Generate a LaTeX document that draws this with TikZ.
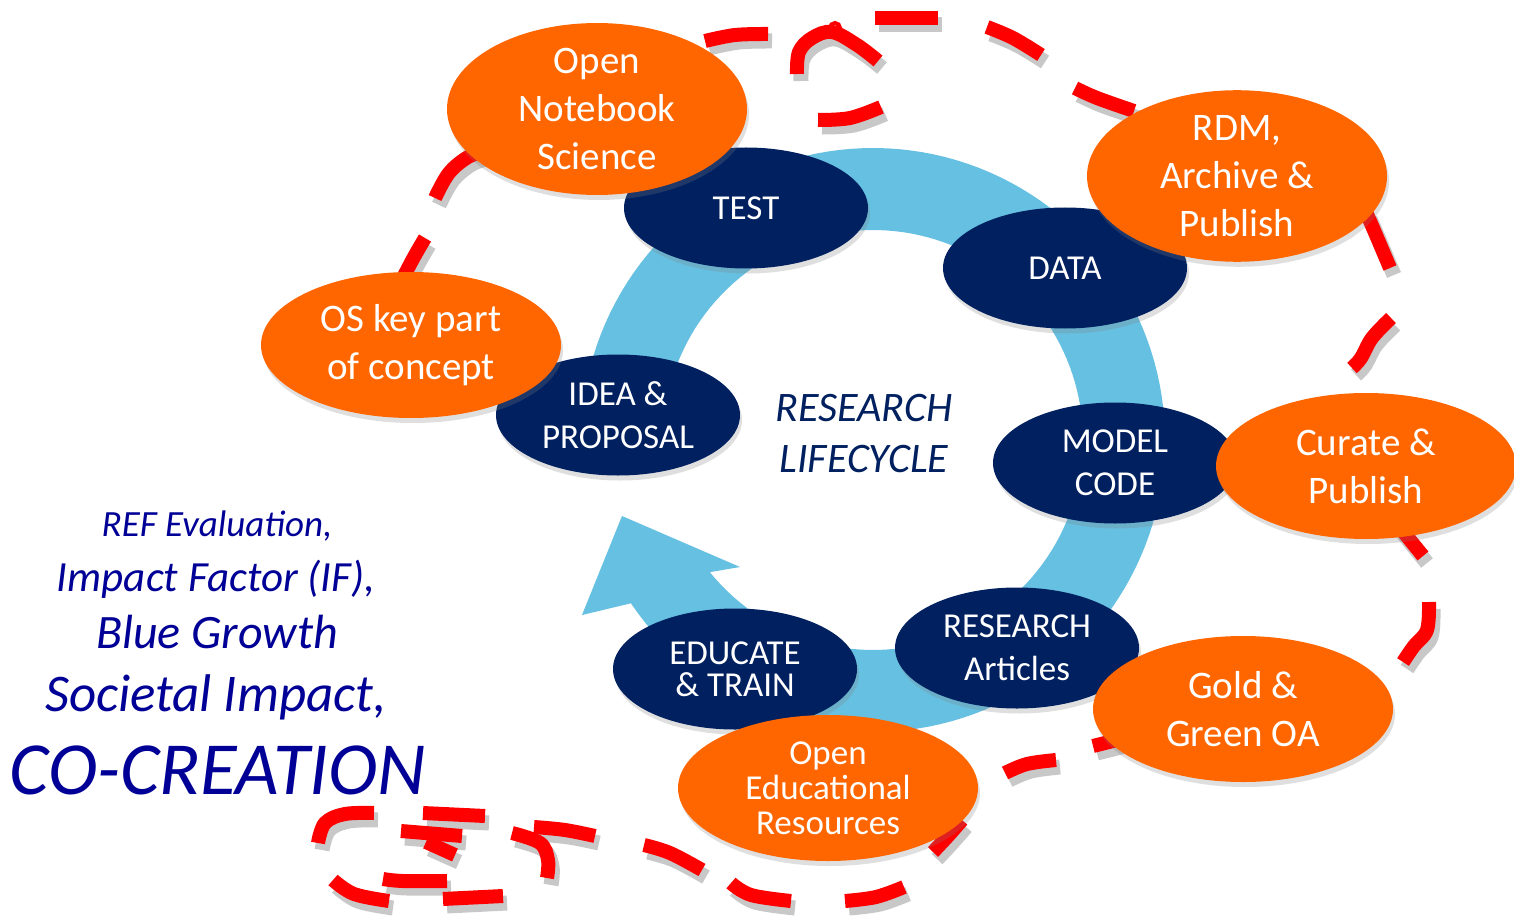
\documentclass[tikz,border=0pt]{standalone}
\usepackage{fontspec}
\setmainfont{Carlito}
\usetikzlibrary{shapes.geometric,shadows}
\definecolor{navy}{RGB}{0,32,96}
\definecolor{orng}{RGB}{255,102,0}
\definecolor{ringblue}{RGB}{102,192,225}
\definecolor{txtblue}{RGB}{0,0,150}
\newcommand\reddash[1]{%
  \draw[dashshadow] plot[smooth,tension=0.6] coordinates {#1};
  \draw[dashstroke] plot[smooth,tension=0.6] coordinates {#1};}
\begin{document}
\begin{tikzpicture}[x=1pt,y=-1pt,
  navynode/.style={ellipse, fill=navy, text=white, minimum width=244pt, minimum height=121pt,
    inner sep=0pt, align=center, font=\fontsize{35}{43}\selectfont,
    drop shadow={shadow xshift=2pt, shadow yshift=-5pt, opacity=0.25}},
  orangenode/.style={ellipse, fill=orng, text=white, minimum width=300pt, minimum height=146pt,
    inner sep=0pt, align=center, font=\fontsize{39}{48}\selectfont,
    drop shadow={shadow xshift=2pt, shadow yshift=-5pt, opacity=0.25}},
  dashstroke/.style={draw=red, line width=14pt},
  dashshadow/.style={draw=black!70, opacity=0.3, line width=15pt, xshift=4pt, yshift=-7pt},
  sidetext/.style={anchor=base, text=txtblue, inner sep=0pt},
  centertext/.style={anchor=base, text=navy, inner sep=0pt, font=\fontsize{42}{51}\selectfont\itshape}]

\useasboundingbox (0,0) rectangle (1514,917);
\fill[white] (0,0) rectangle (1514,917);

% lifecycle arrow
\fill[ringblue]
  plot[domain=185:506, samples=140] ({873+292*cos(\x)}, {440+292*sin(\x)})
  -- (582,615) -- (622,516) -- (740,567)
  -- plot[domain=501:185, samples=140] ({873+210*cos(\x)}, {440+210*sin(\x)})
  -- cycle;

% lifecycle stages
\node[navynode] (test) at (746,208) {TEST};
\node[navynode] (data) at (1065,268) {DATA};
\node[navynode] (idea) at (618,415) {IDEA \&\\PROPOSAL};
\node[navynode] (model) at (1115,463) {MODEL\\CODE};
\node[navynode] (research) at (1017,648) {RESEARCH\\Articles};
\node[navynode, font=\fontsize{35}{32}\selectfont] (educate) at (735,669) {EDUCATE\\\& TRAIN};

% red dashed loop
\reddash{(404,276) (414,257) (425,238)}
\reddash{(435,198) (449,173) (468,157) (483,152)}
\reddash{(645,50) (672,44)}
\reddash{(705,41) (735,35) (768,34)}
\reddash{(797,74) (799,52) (812,38) (832,32) (857,45) (878,61)}
\draw[red, line width=4pt] (835,28) circle[radius=5pt];
\reddash{(818,120) (850,118) (881,107)}
\reddash{(875,18) (938,18)}
\reddash{(987,27) (1013,38) (1041,55)}
\reddash{(1075,88) (1097,98) (1134,111)}
\reddash{(1366,212) (1376,235) (1390,268)}
\reddash{(1391,318) (1372,338) (1361,358) (1352,368)}
\reddash{(1398,525) (1410,540) (1423,556)}
\reddash{(1429,602) (1427,630) (1414,646) (1403,662)}
\reddash{(1125,738) (1093,746)}
\reddash{(1005,773) (1027,764) (1056,760)}
\reddash{(933,852) (948,836) (962,820)}
\reddash{(904,887) (876,897) (845,901)}
\reddash{(791,901) (751,895) (731,883)}
\reddash{(702,870) (670,853) (644,845)}
\reddash{(595,836) (565,830) (534,827)}
\reddash{(512,833) (540,843) (548,860) (547,878)}
\reddash{(423,813) (485,816)}
\reddash{(401,831) (462,836)}
\reddash{(426,842) (455,855)}
\reddash{(318,843) (325,823) (345,814) (374,813)}
\reddash{(333,880) (354,894) (389,901)}
\reddash{(383,879) (403,881) (447,881)}
\reddash{(443,899) (503,896)}

% open science practices
\node[orangenode] (ons) at (597,109) {Open\\Notebook\\Science};
\node[orangenode] (rdm) at (1237,176) {RDM,\\Archive \&\\Publish};
\node[orangenode] (os) at (411,345) {OS key part\\of concept};
\node[orangenode] (curate) at (1366,466) {Curate \&\\Publish};
\node[orangenode] (gold) at (1243,709) {Gold \&\\Green OA};
\node[orangenode, font=\fontsize{35}{35}\selectfont] (oer) at (828,788) {Open\\Educational\\Resources};

% centre label
\node[centertext] (rl1) at (864,421) {RESEARCH};
\node[centertext] (rl2) at (864,472) {LIFECYCLE};

% impact text
\node[sidetext, font=\fontsize{37}{42}\selectfont\itshape] (t1) at (217,536) {REF Evaluation,};
\node[sidetext, font=\fontsize{43}{48}\selectfont\itshape] (t2) at (216,591) {Impact Factor (IF),};
\node[sidetext, font=\fontsize{48}{54}\selectfont\itshape] (t3) at (217,648) {Blue Growth};
\node[sidetext, font=\fontsize{53}{60}\selectfont\itshape] (t4) at (216,711) {Societal Impact,};
\node[sidetext, font=\fontsize{75}{84}\selectfont\itshape] (t5) at (218,794) {CO-CREATION};
\end{tikzpicture}
\end{document}
